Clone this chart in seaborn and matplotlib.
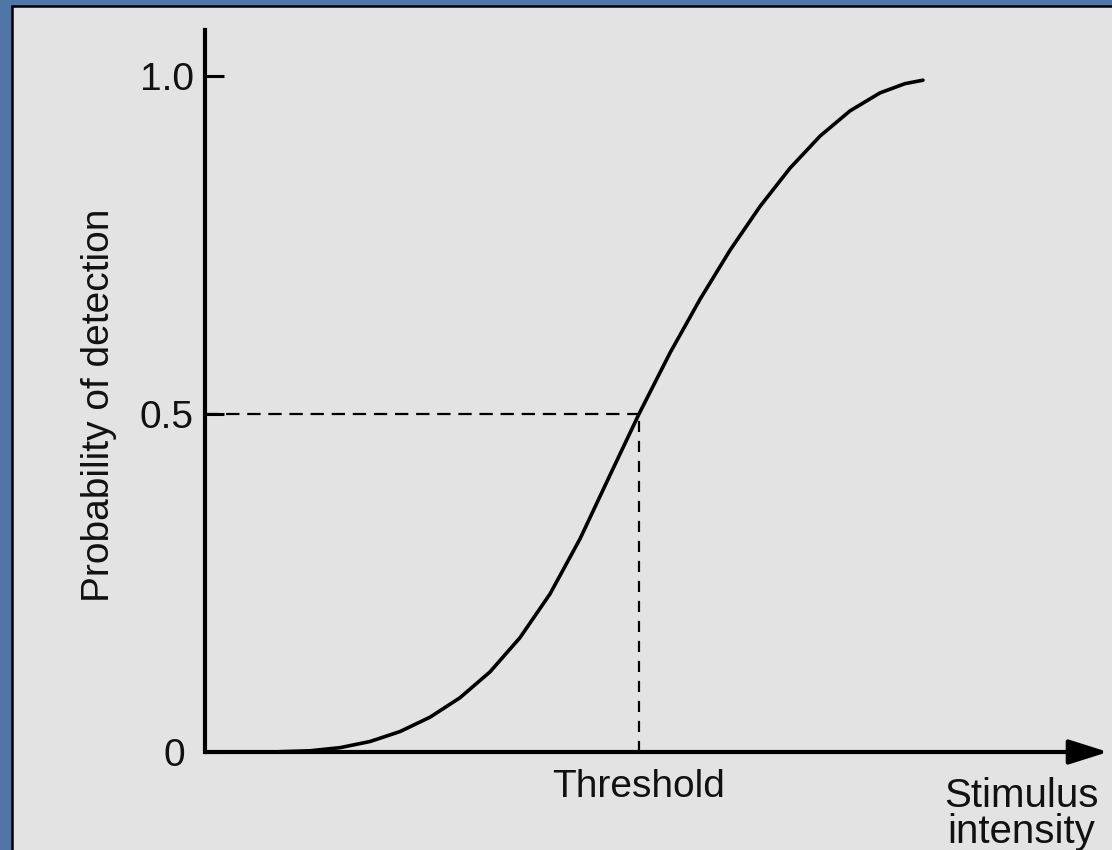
import matplotlib
matplotlib.use("Agg")
import matplotlib.pyplot as plt
from matplotlib.patches import Rectangle
from matplotlib.transforms import ScaledTranslation
import pandas as pd
import seaborn as sns

# Psychometric function: stimulus intensity (arbitrary units) vs probability of detection
intensity = [0.0, 0.72, 1.163, 1.495, 1.827, 2.159, 2.492, 2.824, 3.156,
             3.488, 3.821, 4.153, 4.485, 4.806, 5.150, 5.482, 5.814, 6.146,
             6.478, 6.811, 7.143, 7.475, 7.752, 7.951]
probability = [0.0, 0.0, 0.0018, 0.0064, 0.0155, 0.0302, 0.0515, 0.0803,
               0.1185, 0.1691, 0.2339, 0.3153, 0.4096, 0.5000, 0.5905,
               0.6697, 0.7422, 0.8070, 0.8636, 0.9111, 0.9484, 0.9750,
               0.9887, 0.9938]
threshold = 4.806
threshold_p = 0.5
y_ticks = [0.0, 0.5, 1.0]
y_tick_labels = ["0", "0.5", "1.0"]

df = pd.DataFrame({"intensity": intensity, "probability": probability})

sns.set_theme(style="white")
plt.rcParams["font.family"] = ["Liberation Sans", "DejaVu Sans"]
ink = "#111111"
plt.rcParams["text.color"] = ink
plt.rcParams["ytick.color"] = ink
plt.rcParams["xtick.color"] = ink
plt.rcParams["axes.labelcolor"] = ink

W, H = 1112, 850
fig = plt.figure(figsize=(W / 100, H / 100), dpi=100, facecolor="#4f76a6")

# light slide panel with a thin dark rim on its top and left
panel = Rectangle((12 / W, -0.1), 1.2, 0.1 + 844 / H, transform=fig.transFigure,
                  facecolor="#e3e3e3", edgecolor="black", linewidth=1.8,
                  zorder=-10)
fig.patches.append(panel)

ax = fig.add_axes([205 / W, (H - 752) / H, (1108 - 205) / W, (752 - 30) / H])
ax.set_facecolor("none")
ax.set_zorder(5)

sns.lineplot(data=df, x="intensity", y="probability", ax=ax, color="black",
             linewidth=2.6, estimator=None, sort=False)

# guide lines to the threshold
ax.plot([0, threshold], [threshold_p, threshold_p], color="black",
        linewidth=1.6, linestyle=(0, (6, 3.5)))
ax.plot([threshold, threshold], [0, threshold_p], color="black",
        linewidth=1.6, linestyle=(0, (5, 4)))

ax.set_xlim(0, 10)
ax.set_ylim(0, 722 / 676)

for side in ["top", "right", "bottom"]:
    ax.spines[side].set_visible(False)
ax.spines["left"].set_color("black")
ax.spines["left"].set_linewidth(3)

# x axis drawn as an arrow
ax.annotate("", xy=(1, 0), xytext=(0, 0), xycoords="axes fraction",
            arrowprops=dict(arrowstyle="-|>,head_length=1.2,head_width=0.38",
                            mutation_scale=20, lw=3, color="black",
                            shrinkA=0, shrinkB=0))

ax.set_yticks(y_ticks)
ax.set_yticklabels(y_tick_labels)
ax.tick_params(axis="y", direction="in", length=14, width=2.2, color="black",
               labelcolor=ink, labelsize=28, pad=8, left=True)
zero_label = ax.get_yticklabels()[0]
zero_label.set_transform(zero_label.get_transform()
                         + ScaledTranslation(-0.09, 0, fig.dpi_scale_trans))

ax.set_xticks([threshold])
ax.set_xticklabels(["Threshold"])
ax.tick_params(axis="x", length=0, labelcolor=ink, labelsize=28, pad=12)

ax.set_xlabel("")
ax.set_ylabel("Probability of detection", fontsize=28, color=ink)
ax.yaxis.set_label_coords(-0.097, 0.48)

ax.annotate("Stimulus\nintensity", xy=((1021 - 205) / 903, 0),
            xycoords="axes fraction", xytext=(0, -18),
            textcoords="offset points", ha="center", va="top",
            fontsize=29, linespacing=0.92, multialignment="center",
            color=ink, annotation_clip=False)

fig.savefig("out.png", dpi=100, facecolor=fig.get_facecolor())
